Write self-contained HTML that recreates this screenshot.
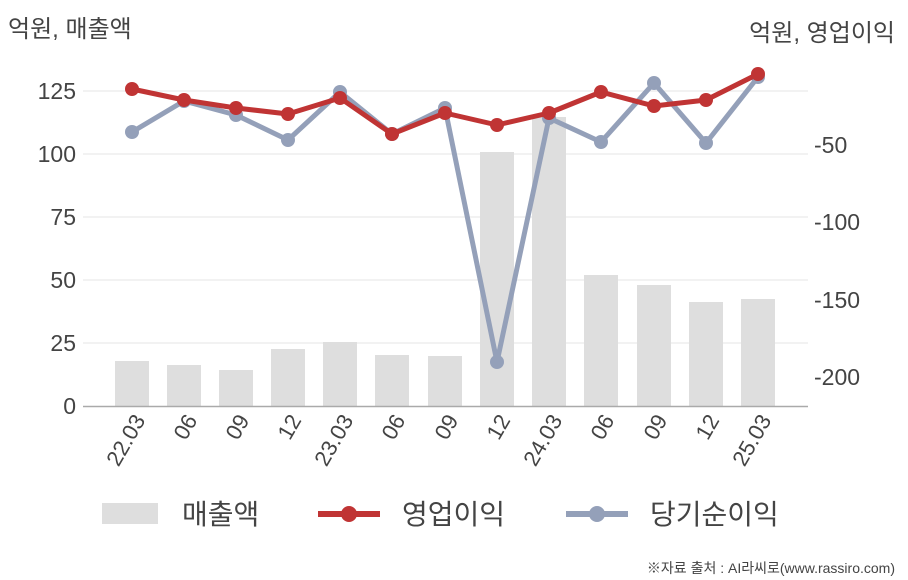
<!DOCTYPE html>
<html><head><meta charset="utf-8"><style>body{margin:0;background:#fff}svg{display:block}text{font-family:"Liberation Sans","Noto Sans CJK KR",sans-serif;fill:#444}</style></head><body>
<svg width="908" height="580" viewBox="0 0 908 580">
<g stroke="#e6e6e6" stroke-width="1">
<line x1="83" y1="91" x2="808" y2="91"/><line x1="83" y1="154" x2="808" y2="154"/><line x1="83" y1="217" x2="808" y2="217"/><line x1="83" y1="280" x2="808" y2="280"/><line x1="83" y1="343" x2="808" y2="343"/>
</g>
<g fill="#dedede">
<rect x="115" y="361" width="34" height="45"/><rect x="167" y="365" width="34" height="41"/><rect x="219" y="370" width="34" height="36"/><rect x="271" y="349" width="34" height="57"/><rect x="323" y="342" width="34" height="64"/><rect x="375" y="355" width="34" height="51"/><rect x="428" y="356" width="34" height="50"/><rect x="480" y="152" width="34" height="254"/><rect x="532" y="117" width="34" height="289"/><rect x="584" y="275" width="34" height="131"/><rect x="637" y="285" width="34" height="121"/><rect x="689" y="302" width="34" height="104"/><rect x="741" y="299" width="34" height="107"/>
</g>
<line x1="83" y1="406.5" x2="808" y2="406.5" stroke="#aaa" stroke-width="1.5"/>
<g font-size="23" text-anchor="end">
<text x="76" y="414">0</text><text x="76" y="351">25</text><text x="76" y="288">50</text><text x="76" y="225">75</text><text x="76" y="162">100</text><text x="76" y="99">125</text>
</g>
<g font-size="23" text-anchor="start">
<text x="814" y="153">-50</text><text x="814" y="230">-100</text><text x="814" y="308">-150</text><text x="814" y="385">-200</text>
</g>
<text x="8" y="37" font-size="24">억원, 매출액</text>
<text x="895" y="41" font-size="24" text-anchor="end">억원, 영업이익</text>
<g font-size="22" text-anchor="end">
<text transform="translate(146,420) rotate(-60)">22.03</text>
<text transform="translate(198,420) rotate(-60)">06</text>
<text transform="translate(250,420) rotate(-60)">09</text>
<text transform="translate(302,420) rotate(-60)">12</text>
<text transform="translate(354,420) rotate(-60)">23.03</text>
<text transform="translate(406,420) rotate(-60)">06</text>
<text transform="translate(459,420) rotate(-60)">09</text>
<text transform="translate(511,420) rotate(-60)">12</text>
<text transform="translate(563,420) rotate(-60)">24.03</text>
<text transform="translate(615,420) rotate(-60)">06</text>
<text transform="translate(668,420) rotate(-60)">09</text>
<text transform="translate(720,420) rotate(-60)">12</text>
<text transform="translate(772,420) rotate(-60)">25.03</text>
</g>
<polyline fill="none" stroke="#94a0b9" stroke-width="5" stroke-linejoin="round" points="132,132 184,101 236,115 288,140 340,92 392,134 445,108 497,362 549,118 601,142 654,83 706,143 758,77"/>
<g fill="#94a0b9">
<circle cx="132" cy="132" r="7"/><circle cx="184" cy="101" r="7"/><circle cx="236" cy="115" r="7"/><circle cx="288" cy="140" r="7"/><circle cx="340" cy="92" r="7"/><circle cx="392" cy="134" r="7"/><circle cx="445" cy="108" r="7"/><circle cx="497" cy="362" r="7"/><circle cx="549" cy="118" r="7"/><circle cx="601" cy="142" r="7"/><circle cx="654" cy="83" r="7"/><circle cx="706" cy="143" r="7"/><circle cx="758" cy="77" r="7"/>
</g>
<polyline fill="none" stroke="#c03434" stroke-width="5" stroke-linejoin="round" points="132,89 184,100 236,108 288,114 340,98 392,134 445,113 497,125 549,113 601,92 654,106 706,100 758,74"/>
<g fill="#c03434">
<circle cx="132" cy="89" r="7"/><circle cx="184" cy="100" r="7"/><circle cx="236" cy="108" r="7"/><circle cx="288" cy="114" r="7"/><circle cx="340" cy="98" r="7"/><circle cx="392" cy="134" r="7"/><circle cx="445" cy="113" r="7"/><circle cx="497" cy="125" r="7"/><circle cx="549" cy="113" r="7"/><circle cx="601" cy="92" r="7"/><circle cx="654" cy="106" r="7"/><circle cx="706" cy="100" r="7"/><circle cx="758" cy="74" r="7"/>
</g>
<rect x="102" y="503" width="56" height="21" fill="#dedede"/>
<text x="182" y="524" font-size="28">매출액</text>
<line x1="318" y1="514" x2="380" y2="514" stroke="#c03434" stroke-width="6"/><circle cx="349" cy="514" r="8" fill="#c03434"/>
<text x="402" y="524" font-size="28">영업이익</text>
<line x1="566" y1="514" x2="628" y2="514" stroke="#94a0b9" stroke-width="6"/><circle cx="597" cy="514" r="8" fill="#94a0b9"/>
<text x="650" y="524" font-size="28">당기순이익</text>
<text x="895" y="573" font-size="14" text-anchor="end" fill="#555">※자료 출처 : AI라씨로(www.rassiro.com)</text>
</svg>
</body></html>
